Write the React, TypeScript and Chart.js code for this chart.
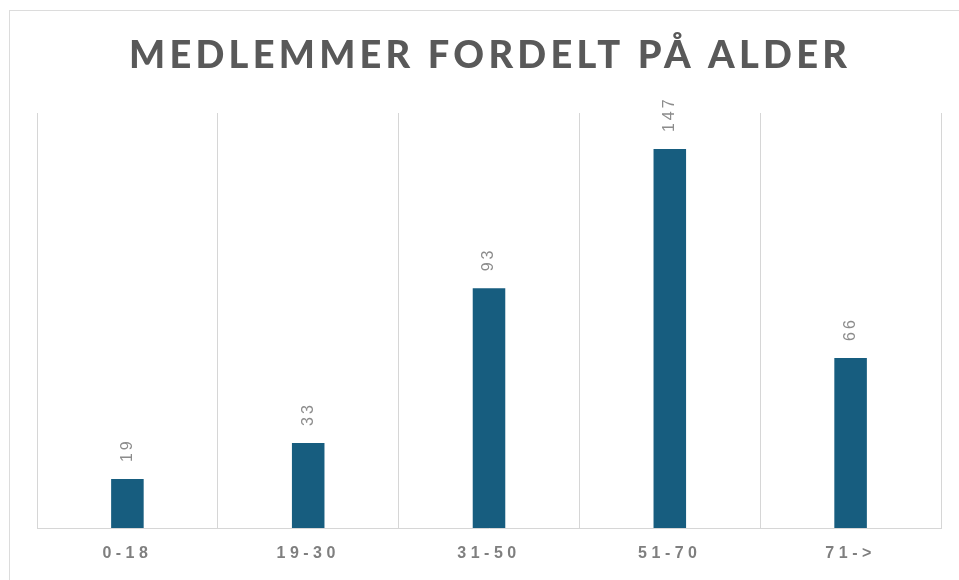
import React, { useEffect, useRef } from "react";
import { Chart, registerables } from "chart.js";

Chart.register(...registerables);

const TITLE = "MEDLEMMER FORDELT PÅ ALDER";
const categories = ["0-18", "19-30", "31-50", "51-70", "71->"];
const members = [19, 33, 93, 147, 66];
const Y_MIN = 0;
const Y_MAX = 161;

const BAR_COLOR = "#175d7f";
const GRID_COLOR = "#d6d6d6";

const spacingPlugin = {
  id: "tickSpacing",
  beforeDraw(chart: any) {
    chart.ctx.letterSpacing = "4.5px";
  },
};

const titlePlugin = {
  id: "spacedTitle",
  afterDraw(chart: any) {
    const ctx = chart.ctx;
    ctx.save();
    ctx.font = "900 38px Lato";
    ctx.fillStyle = "#595959";
    ctx.textAlign = "left";
    ctx.textBaseline = "alphabetic";
    ctx.letterSpacing = "0px";
    const targetWidth = 718;
    const w = ctx.measureText(TITLE).width;
    const chars = Array.from(TITLE).length;
    const ls = (targetWidth - w) / (chars - 1);
    ctx.letterSpacing = ls + "px";
    ctx.fillText(TITLE, 478 - targetWidth / 2, 57);
    ctx.restore();
  },
};

const labelPlugin = {
  id: "barLabels",
  afterDatasetsDraw(chart: any) {
    const ctx = chart.ctx;
    const meta = chart.getDatasetMeta(0);
    const data = chart.data.datasets[0].data;
    ctx.save();
    ctx.font = "16px 'Liberation Sans', Arial, sans-serif";
    ctx.fillStyle = "#8c8c8c";
    ctx.letterSpacing = "3px";
    ctx.textAlign = "left";
    ctx.textBaseline = "middle";
    meta.data.forEach((bar: any, i: number) => {
      ctx.save();
      ctx.translate(bar.x, bar.y - 17);
      ctx.rotate(-Math.PI / 2);
      ctx.fillText(String(data[i]), 0, 0);
      ctx.restore();
    });
    ctx.restore();
  },
};

export default function App() {
  const ref = useRef<HTMLCanvasElement | null>(null);

  useEffect(() => {
    if (!ref.current) return;
    const chart = new Chart(ref.current, {
      type: "bar",
      data: {
        labels: categories,
        datasets: [
          {
            data: members,
            backgroundColor: BAR_COLOR,
            borderWidth: 0,
            barPercentage: 0.18,
            categoryPercentage: 1,
          },
        ],
      },
      options: {
        responsive: false,
        animation: false,
        layout: { padding: { left: 27, right: 18, top: 102, bottom: 0 } },
        plugins: {
          legend: { display: false },
          title: { display: false },
          tooltip: { enabled: false },
        },
        scales: {
          x: {
            grid: {
              offset: true,
              color: GRID_COLOR,
              lineWidth: 1,
              drawTicks: false,
            },
            border: { display: true, color: GRID_COLOR, width: 1 },
            ticks: {
              padding: 16,
              color: "#7f7f7f",
              font: { family: "'Liberation Sans', Arial, sans-serif", size: 16, weight: "bold" },
            },
            afterFit: (scale: any) => {
              scale.height = 52;
            },
          },
          y: {
            display: false,
            min: Y_MIN,
            max: Y_MAX,
          },
        },
      },
      plugins: [spacingPlugin, titlePlugin, labelPlugin],
    });
    return () => chart.destroy();
  }, []);

  return (
    <div
      style={{
        position: "absolute",
        left: 9,
        top: 10,
        width: 950,
        height: 570,
        boxSizing: "border-box",
        borderTop: "1px solid #dcdcdc",
        borderLeft: "1px solid #dcdcdc",
        background: "#fff",
      }}
    >
      <canvas ref={ref} width={949} height={569} style={{ display: "block" }} />
    </div>
  );
}
